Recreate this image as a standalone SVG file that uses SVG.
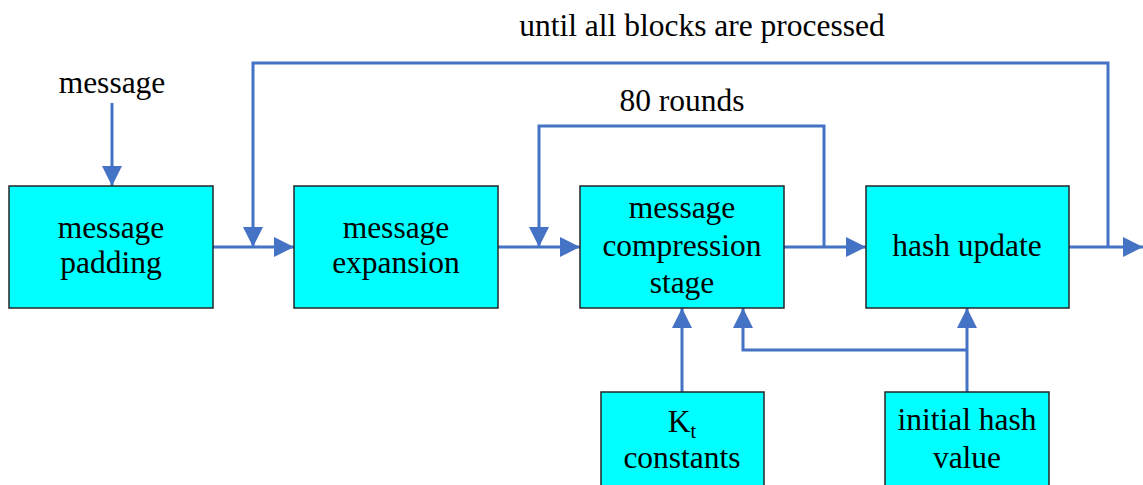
<svg xmlns="http://www.w3.org/2000/svg" width="1143" height="485" viewBox="0 0 1143 485">
<style>
.box{fill:#00FFFF;stroke:#262626;stroke-width:1.5}
.t{font-family:'Liberation Serif','DejaVu Serif',serif;font-size:31.5px;fill:#000;text-anchor:middle}
.c{fill:none;stroke:#4472C4;stroke-width:3}
</style>
<defs>
<marker id="ah" viewBox="0 0 10 10" refX="10" refY="5" markerWidth="20" markerHeight="20" markerUnits="userSpaceOnUse" orient="auto">
<path d="M0,0 L10,5 L0,10 z" fill="#4472C4"/>
</marker>
</defs>
<rect width="1143" height="485" fill="#fff"/>
<g id="connectors">
<line class="c" x1="112" y1="103" x2="112" y2="186" marker-end="url(#ah)"/>
<line class="c" x1="213" y1="247" x2="294" y2="247" marker-end="url(#ah)"/>
<line class="c" x1="498" y1="247" x2="580" y2="247" marker-end="url(#ah)"/>
<line class="c" x1="784" y1="247" x2="866" y2="247" marker-end="url(#ah)"/>
<line class="c" x1="1069" y1="247" x2="1143" y2="247" marker-end="url(#ah)"/>
<polyline class="c" points="1108,247 1108,63 253,63 253,247" marker-end="url(#ah)"/>
<polyline class="c" points="824,247 824,126 539,126 539,247" marker-end="url(#ah)"/>
<line class="c" x1="682" y1="392" x2="682" y2="308" marker-end="url(#ah)"/>
<line class="c" x1="967" y1="392" x2="967" y2="308" marker-end="url(#ah)"/>
<polyline class="c" points="967,350 743,350 743,308" marker-end="url(#ah)"/>
</g>
<text class="t" x="702" y="36">until all blocks are processed</text>
<text class="t" x="682" y="111">80 rounds</text>
<text class="t" x="112" y="93">message</text>
<g id="padding">
<rect class="box" x="9" y="186" width="204" height="122"/>
<text class="t" x="111" y="238">message</text>
<text class="t" x="111" y="273">padding</text>
</g>
<g id="expansion">
<rect class="box" x="294" y="186" width="204" height="122"/>
<text class="t" x="396" y="238">message</text>
<text class="t" x="396" y="273">expansion</text>
</g>
<g id="compression">
<rect class="box" x="580" y="186" width="204" height="122"/>
<text class="t" x="682" y="218">message</text>
<text class="t" x="682" y="256">compression</text>
<text class="t" x="682" y="293">stage</text>
</g>
<g id="hashupdate">
<rect class="box" x="866" y="186" width="203" height="122"/>
<text class="t" x="967" y="256">hash update</text>
</g>
<g id="constants">
<rect class="box" x="601" y="392" width="163" height="100"/>
<text class="t" x="682" y="432">K<tspan font-size="20" dy="6">t</tspan></text>
<text class="t" x="682" y="468">constants</text>
</g>
<g id="initialhash">
<rect class="box" x="885" y="392" width="164" height="100"/>
<text class="t" x="967" y="430">initial hash</text>
<text class="t" x="967" y="468">value</text>
</g>
</svg>
